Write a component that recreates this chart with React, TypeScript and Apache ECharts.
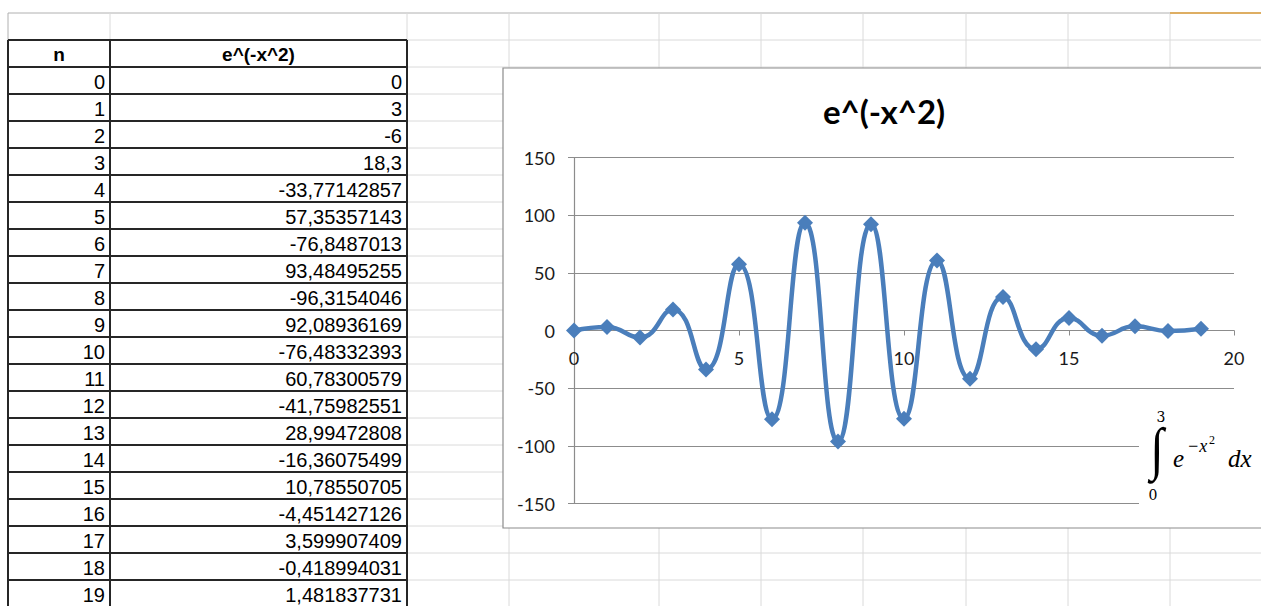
import React, { useEffect, useRef } from "react";
import * as echarts from "echarts";

// Worksheet data: index n and the computed e^(-x^2) column
const nValues = [0, 1, 2, 3, 4, 5, 6, 7, 8, 9, 10, 11, 12, 13, 14, 15, 16, 17, 18, 19];
const fValues = [
  0, 3, -6, 18.3, -33.77142857, 57.35357143, -76.8487013, 93.48495255, -96.3154046,
  92.08936169, -76.48332393, 60.78300579, -41.75982551, 28.99472808, -16.36075499,
  10.78550705, -4.451427126, 3.599907409, -0.418994031, 1.481837731,
];
const tableHeaders = ["n", "e^(-x^2)"];
const chartTitle = "e^(-x^2)";
const xAxisRange = [0, 20, 5]; // min, max, interval
const yAxisRange = [-150, 150, 50];

// Sheet geometry (pixels)
const ROW_H = 27;
const HEADER_TOP = 40;
const TABLE_COLS = [8, 110, 407];
const SHEET_COLS = [509, 659, 761, 863, 966, 1068, 1170];
const W = 1261;
const H = 606;
const CHART_BOX = { x: 503, y: 68, w: 800, h: 460 };
const PLOT = { left: 574, top: 157.5, width: 660, height: 346 };

const LIGHT = "#dadada";
const DARK = "#262626";
const SERIES_BLUE = "#4a7ebb";
const AXIS_GRAY = "#8c8c8c";

// Displayed cell text uses a decimal comma
const fmt = (v: number) => String(v).replace(".", ",");

function line(x1: number, y1: number, x2: number, y2: number, stroke: string, lineWidth: number, z: number) {
  return { type: "line", z, silent: true, shape: { x1, y1, x2, y2 }, style: { stroke, lineWidth } };
}

function text(
  t: string, x: number, y: number, font: string, align: string, z: number,
  extra: Record<string, unknown> = {}
) {
  return {
    type: "text", z, x, y, silent: true, ...extra,
    style: { text: t, font, fill: "#000", align, textAlign: align, verticalAlign: "middle", textVerticalAlign: "middle" },
  };
}

function buildSheet() {
  const els: any[] = [];
  const rowCount = Math.ceil((H - HEADER_TOP) / ROW_H) + 1;
  // top row of the sheet
  els.push(line(8, 13, W, 13, "#b0b0b0", 1, -10));
  els.push(line(1170, 13, W, 13, "#e0a03c", 1.5, -9));
  els.push(line(8, 13, 8, HEADER_TOP, "#b0b0b0", 1, -10));
  els.push(line(110, 13, 110, HEADER_TOP, LIGHT, 1, -10));
  els.push(line(407, 13, 407, HEADER_TOP, LIGHT, 1, -10));
  // light grid to the right of the table
  for (let k = 0; k <= rowCount; k++) {
    const y = HEADER_TOP + k * ROW_H;
    els.push(line(407, y, W, y, LIGHT, 1, -10));
  }
  SHEET_COLS.forEach((x) => els.push(line(x, 13, x, H, LIGHT, 1, -10)));

  // table borders
  for (let k = 0; k <= rowCount; k++) {
    const y = HEADER_TOP + k * ROW_H;
    els.push(line(TABLE_COLS[0], y, TABLE_COLS[2], y, DARK, 2, -8));
  }
  TABLE_COLS.forEach((x) => els.push(line(x, HEADER_TOP, x, H, DARK, 2, -8)));

  // header cells
  const hy = HEADER_TOP + ROW_H / 2 + 1;
  els.push(text(tableHeaders[0], (TABLE_COLS[0] + TABLE_COLS[1]) / 2, hy, 'bold 19px "Liberation Sans"', "center", -7));
  els.push(text(tableHeaders[1], (TABLE_COLS[1] + TABLE_COLS[2]) / 2, hy, 'bold 19px "Liberation Sans"', "center", -7));

  // data cells
  nValues.forEach((n, i) => {
    const y = HEADER_TOP + ROW_H * (i + 1) + ROW_H / 2 + 1;
    els.push(text(String(n), TABLE_COLS[1] - 5, y, '20px "Liberation Sans"', "right", -7));
    els.push(text(fmt(fValues[i]), TABLE_COLS[2] - 5, y, '20px "Liberation Sans"', "right", -7));
  });

  // chart frame
  els.push({
    type: "rect", z: -5, silent: true,
    shape: { x: CHART_BOX.x, y: CHART_BOX.y, width: CHART_BOX.w, height: CHART_BOX.h },
    style: { fill: "#fff", stroke: AXIS_GRAY, lineWidth: 1.2 },
  });

  // inserted equation object (white box over the gridlines)
  els.push({
    type: "rect", z: 50, silent: true,
    shape: { x: 1139, y: 398, width: 130, height: 112 },
    style: { fill: "#fff" },
  });
  els.push(text("\u222B", 1157, 449, '58px "Liberation Serif"', "center", 51, { scaleX: 0.85 }));
  els.push(text("3", 1161, 417, '14px "DejaVu Serif"', "center", 51));
  els.push(text("0", 1153, 495, '14px "DejaVu Serif"', "center", 51));
  els.push(text("e", 1173, 458, 'italic 25px "Liberation Serif"', "left", 51));
  els.push(text("\u2212x", 1187, 446, 'italic 18px "Liberation Serif"', "left", 51));
  els.push(text("2", 1209, 440, '12px "Liberation Serif"', "left", 51));
  els.push(text("dx", 1228, 458, 'italic 25px "Liberation Serif"', "left", 51));
  return els;
}

export default function App() {
  const ref = useRef<HTMLDivElement>(null);

  useEffect(() => {
    if (!ref.current) return;
    const chart = echarts.init(ref.current, undefined, { renderer: "svg" });
    const axisFont = { fontFamily: "Lato", fontSize: 18, color: "#1a1a1a" };
    // the horizontal axis is drawn through y = 0, labels included
    const zeroOffset = -PLOT.height * (0 - yAxisRange[0]) / (yAxisRange[1] - yAxisRange[0]);
    chart.setOption({
      animation: false,
      backgroundColor: "#fff",
      title: {
        text: chartTitle,
        left: 884,
        top: 94,
        padding: 0,
        textAlign: "center",
        textStyle: { fontFamily: "Lato", fontWeight: "bold", fontSize: 33, color: "#000" },
      },
      grid: { ...PLOT, containLabel: false },
      xAxis: {
        type: "value",
        position: "bottom",
        offset: zeroOffset,
        min: xAxisRange[0],
        max: xAxisRange[1],
        interval: xAxisRange[2],
        axisLine: { show: true, onZero: false, lineStyle: { color: AXIS_GRAY, width: 1.2 } },
        axisTick: { show: true, length: 5, lineStyle: { color: AXIS_GRAY } },
        axisLabel: { ...axisFont, margin: 18 },
        splitLine: { show: false },
      },
      yAxis: {
        type: "value",
        min: yAxisRange[0],
        max: yAxisRange[1],
        interval: yAxisRange[2],
        axisLine: { show: true, onZero: false, lineStyle: { color: AXIS_GRAY, width: 1.2 } },
        axisTick: { show: true, length: 6, lineStyle: { color: AXIS_GRAY } },
        axisLabel: { ...axisFont, margin: 19 },
        splitLine: { show: true, lineStyle: { color: AXIS_GRAY, width: 1.2 } },
      },
      series: [
        {
          type: "line",
          data: nValues.map((n, i) => [n, fValues[i]]),
          smooth: 0.5,
          symbol: "diamond",
          symbolSize: 16,
          showAllSymbol: true,
          lineStyle: { color: SERIES_BLUE, width: 4.5 },
          itemStyle: { color: SERIES_BLUE },
          z: 3,
        },
      ],
      graphic: { elements: buildSheet() },
    });
    return () => chart.dispose();
  }, []);

  return (
    <div
      ref={ref}
      style={{ position: "fixed", left: 0, top: 0, width: W, height: H, background: "#fff" }}
    />
  );
}
